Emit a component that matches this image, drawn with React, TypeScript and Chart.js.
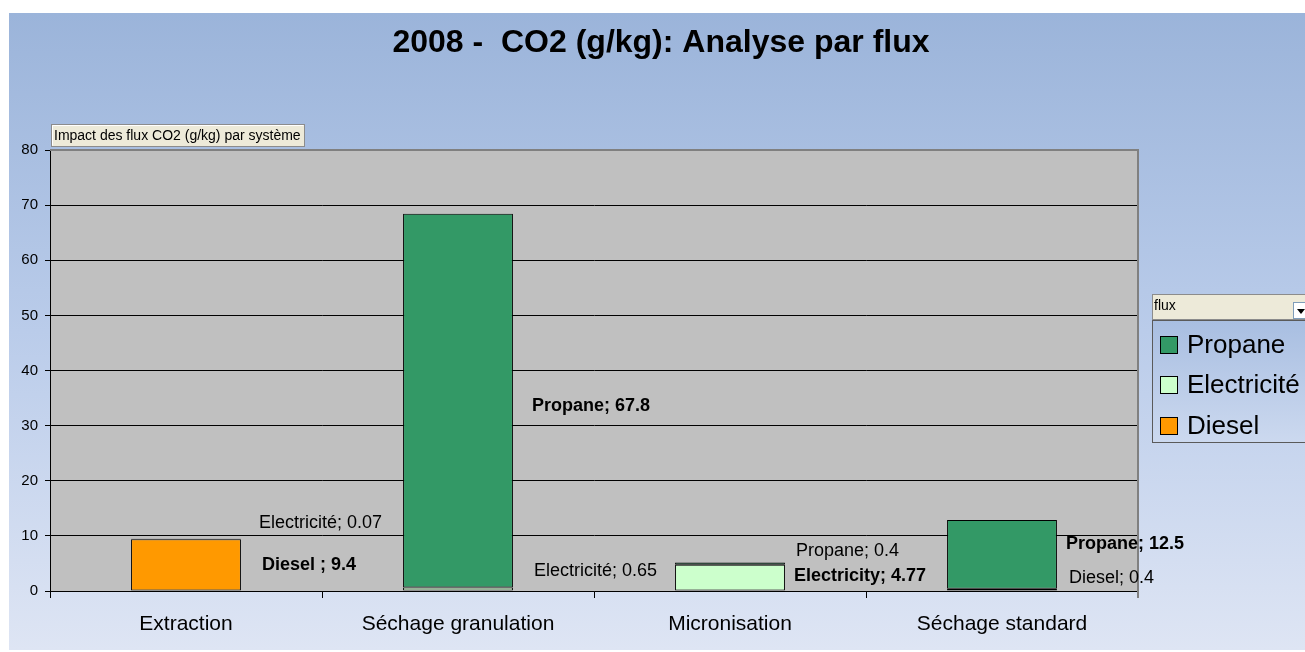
import React, { useEffect, useRef } from "react";
import { Chart, registerables } from "chart.js";

Chart.register(...registerables);

const W = 1305;
const H = 652;
const FONT = '"Liberation Sans", Arial, sans-serif';

const TITLE = "2008 -  CO2 (g/kg): Analyse par flux";
const BUTTON_TEXT = "Impact des flux CO2 (g/kg) par système";
const LEGEND_FIELD = "flux";

const categories = ["Extraction", "Séchage granulation", "Micronisation", "Séchage standard"];
const diesel: (number | null)[] = [9.4, null, null, 0.4];
const electricite: (number | null)[] = [0.07, 0.65, 4.77, null];
const propane: (number | null)[] = [null, 67.8, 0.4, 12.5];

const Y_MIN = 0;
const Y_MAX = 80;
const Y_STEP = 10;

// series: [label, colour]
const seriesDiesel = { label: "Diesel", color: "#FF9900" };
const seriesElec = { label: "Electricité", color: "#CCFFCC" };
const seriesPropane = { label: "Propane", color: "#339966" };

// data labels: dataset index (0 Diesel, 1 Electricité, 2 Propane), category index, text, bold
const labelDataset = [1, 0, 2, 1, 2, 1, 2, 0];
const labelCategory = [0, 0, 1, 1, 2, 2, 3, 3];
const labelText = [
  "Electricité; 0.07",
  "Diesel ; 9.4",
  "Propane; 67.8",
  "Electricité; 0.65",
  "Propane; 0.4",
  "Electricity; 4.77",
  "Propane; 12.5",
  "Diesel; 0.4",
];
const labelBold = [false, true, true, false, false, true, true, false];
// layout offsets (px) from bar right edge / segment centre
const labelDx = [18, 21, 19, 21, 11, 9, 9, 12];
const labelDy = [-16, 0, 5, -18, -13, -2, -10, -12];

const decorPlugin = {
  id: "decor",
  beforeDraw(chart: any) {
    const ctx = chart.ctx as CanvasRenderingContext2D;
    const { left, top, right, bottom } = chart.chartArea;
    ctx.save();
    ctx.fillStyle = "#ffffff";
    ctx.fillRect(0, 0, W, H);
    const g = ctx.createLinearGradient(0, 13, 0, 650);
    g.addColorStop(0, "#9BB4DA");
    g.addColorStop(0.5, "#BACCEA");
    g.addColorStop(1, "#DEE5F4");
    ctx.fillStyle = g;
    ctx.fillRect(9, 13, W - 9, 637);
    ctx.fillStyle = "#C0C0C0";
    ctx.fillRect(left, top, right - left, bottom - top);
    ctx.restore();
  },
  afterDatasetsDraw(chart: any) {
    const ctx = chart.ctx as CanvasRenderingContext2D;
    const { left, top, right, bottom } = chart.chartArea;
    ctx.save();
    // plot frame (top & right)
    ctx.strokeStyle = "#808080";
    ctx.lineWidth = 2;
    ctx.beginPath();
    ctx.moveTo(left, top);
    ctx.lineTo(right, top);
    ctx.lineTo(right, bottom + 7);
    ctx.stroke();

    // data labels
    ctx.fillStyle = "#000000";
    ctx.textAlign = "left";
    ctx.textBaseline = "middle";
    for (let i = 0; i < labelText.length; i++) {
      const meta = chart.getDatasetMeta(labelDataset[i]);
      const el = meta.data[labelCategory[i]] as any;
      if (!el) continue;
      const x = el.x + el.width / 2 + labelDx[i];
      const y = (el.y + el.base) / 2 + labelDy[i];
      ctx.font = `${labelBold[i] ? "bold " : ""}18px ${FONT}`;
      ctx.fillText(labelText[i], x, y);
    }
    ctx.restore();
  },
  afterDraw(chart: any) {
    const ctx = chart.ctx as CanvasRenderingContext2D;
    ctx.save();
    // title
    ctx.fillStyle = "#000000";
    ctx.font = `bold 32px ${FONT}`;
    ctx.textAlign = "center";
    ctx.textBaseline = "middle";
    ctx.fillText(TITLE, 661, 43);

    // field button
    ctx.fillStyle = "#EDEAD9";
    ctx.fillRect(51, 124, 254, 23);
    ctx.strokeStyle = "#8C8C8C";
    ctx.lineWidth = 1;
    ctx.strokeRect(51.5, 124.5, 253, 22);
    ctx.strokeStyle = "#FFFFFF";
    ctx.beginPath();
    ctx.moveTo(52.5, 145.5);
    ctx.lineTo(52.5, 125.5);
    ctx.lineTo(303.5, 125.5);
    ctx.stroke();
    ctx.fillStyle = "#000000";
    ctx.font = `14px ${FONT}`;
    ctx.textAlign = "left";
    ctx.fillText(BUTTON_TEXT, 54, 136);

    // legend field box
    ctx.fillStyle = "#EDEAD9";
    ctx.fillRect(1152, 294, W - 1152, 26);
    ctx.strokeStyle = "#8C8C8C";
    ctx.strokeRect(1152.5, 294.5, W - 1152, 25);
    ctx.fillStyle = "#000000";
    ctx.font = `14px ${FONT}`;
    ctx.fillText(LEGEND_FIELD, 1154, 306);
    // dropdown button
    ctx.fillStyle = "#FFFFFF";
    ctx.fillRect(1293, 302, 14, 17);
    ctx.strokeStyle = "#7F9DB9";
    ctx.strokeRect(1293.5, 302.5, 14, 16);
    ctx.fillStyle = "#000000";
    ctx.beginPath();
    ctx.moveTo(1297, 309);
    ctx.lineTo(1305, 309);
    ctx.lineTo(1301, 314);
    ctx.closePath();
    ctx.fill();

    // legend box
    const lg = ctx.createLinearGradient(0, 320, 0, 443);
    lg.addColorStop(0, "#A8BEE1");
    lg.addColorStop(1, "#CCD9EF");
    ctx.fillStyle = lg;
    ctx.fillRect(1152, 320, W - 1152, 123);
    ctx.strokeStyle = "#5A5A5A";
    ctx.strokeRect(1152.5, 320.5, W - 1152, 122);

    const legendIdx = [2, 1, 0];
    const rowY = [345, 385, 426];
    ctx.font = `26px ${FONT}`;
    ctx.textBaseline = "middle";
    legendIdx.forEach((di, r) => {
      const ds = chart.data.datasets[di];
      ctx.fillStyle = ds.backgroundColor as string;
      ctx.fillRect(1160, rowY[r] - 9, 18, 18);
      ctx.strokeStyle = "#000000";
      ctx.strokeRect(1160.5, rowY[r] - 8.5, 17, 17);
      ctx.fillStyle = "#000000";
      ctx.fillText(ds.label as string, 1187, rowY[r] + 1);
    });
    ctx.restore();
  },
};

export default function App() {
  const ref = useRef<HTMLCanvasElement>(null);

  useEffect(() => {
    document.body.style.margin = "0";
    const canvas = ref.current!;
    const mk = (s: { label: string; color: string }, data: (number | null)[]) => ({
      label: s.label,
      data,
      backgroundColor: s.color,
      borderColor: "#000000",
      borderWidth: 1,
      borderSkipped: false,
      categoryPercentage: 1,
      barPercentage: 0.404,
    });
    const chart = new Chart(canvas, {
      type: "bar",
      data: {
        labels: categories,
        datasets: [mk(seriesDiesel, diesel), mk(seriesElec, electricite), mk(seriesPropane, propane)] as any,
      },
      plugins: [decorPlugin],
      options: {
        responsive: false,
        animation: false,
        devicePixelRatio: 1,
        layout: { padding: { left: 0, top: 150, right: 167, bottom: 0 } },
        plugins: {
          legend: { display: false },
          title: { display: false },
          tooltip: { enabled: false },
        },
        scales: {
          x: {
            stacked: true,
            afterFit: (s: any) => {
              s.height = 61;
            },
            grid: {
              drawOnChartArea: false,
              drawTicks: true,
              tickLength: 7,
              color: "#000000",
              offset: true,
            },
            border: { display: true, color: "#000000", width: 1 },
            ticks: {
              color: "#000000",
              font: { family: FONT, size: 21 },
              padding: 14,
              maxRotation: 0,
              autoSkip: false,
            },
          },
          y: {
            stacked: true,
            min: Y_MIN,
            max: Y_MAX,
            afterFit: (s: any) => {
              s.width = 50;
            },
            grid: {
              color: "#000000",
              lineWidth: 1,
              drawTicks: true,
              tickLength: 5,
            },
            border: { display: true, color: "#000000", width: 1 },
            ticks: {
              stepSize: Y_STEP,
              color: "#000000",
              font: { family: FONT, size: 15 },
              padding: 7,
            },
          },
        },
      },
    });
    return () => chart.destroy();
  }, []);

  return (
    <div style={{ position: "absolute", left: 0, top: 0, width: W, height: H }}>
      <canvas ref={ref} width={W} height={H} style={{ width: W, height: H, display: "block" }} />
    </div>
  );
}
